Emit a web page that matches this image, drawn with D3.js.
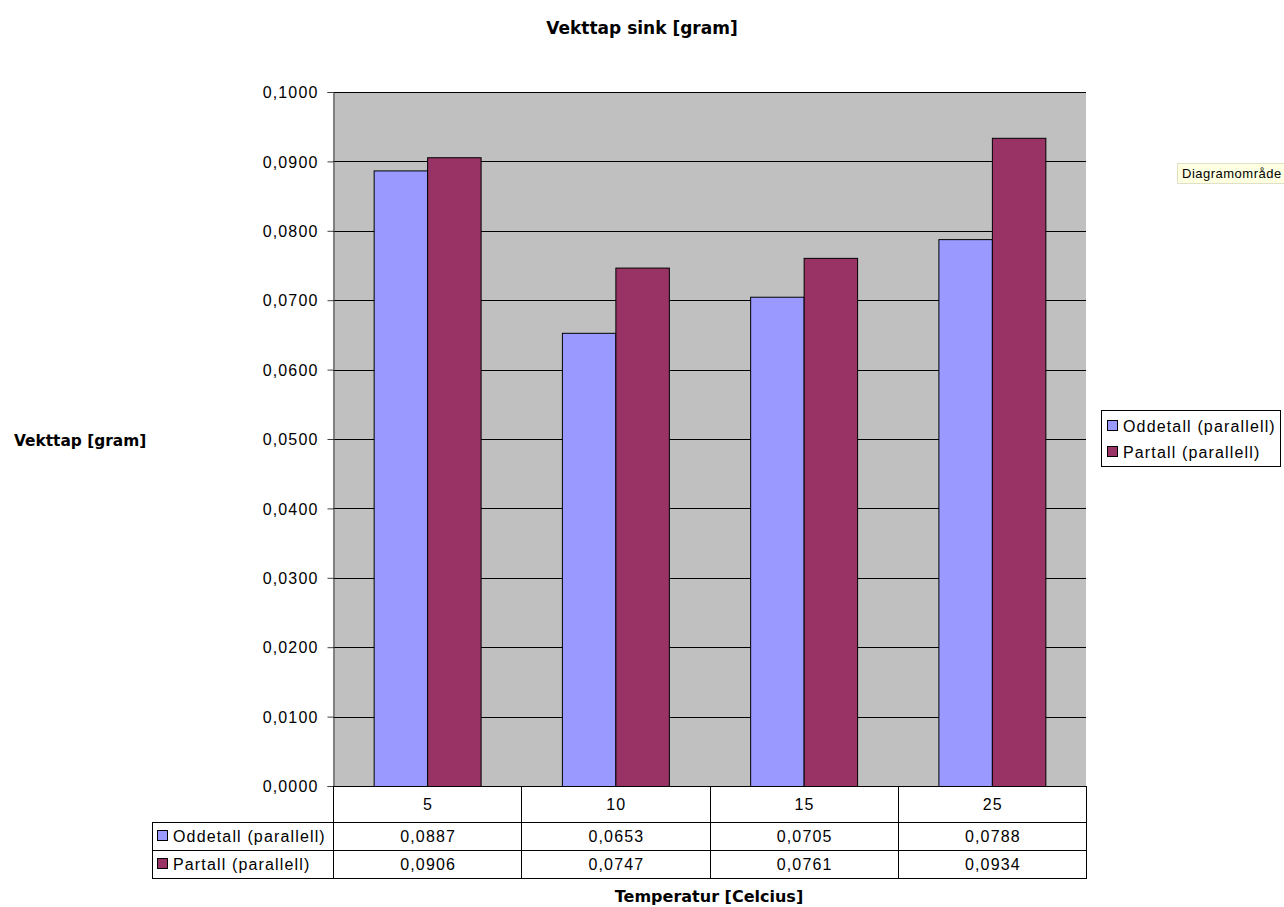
<!DOCTYPE html>
<html>
<head>
<meta charset="utf-8">
<script src="https://cdn.jsdelivr.net/npm/d3@7"></script>
<style>
  body { margin: 0; background: #fff; }
  svg { display: block; }
  .lbl { font-family: "Liberation Sans", Arial, sans-serif; font-size: 16px; letter-spacing: 1.15px; fill: #000; }
  .ttl { font-family: "DejaVu Sans", Verdana, sans-serif; font-weight: bold; fill: #000; }
</style>
</head>
<body>
<svg id="chart" width="1284" height="907"></svg>
<script>
// Weight loss of zinc per temperature, two parallel series
const categories = ["5", "10", "15", "25"];
const seriesNames = ["Oddetall (parallell)", "Partall (parallell)"];
const oddetall = [0.0887, 0.0653, 0.0705, 0.0788];
const partall = [0.0906, 0.0747, 0.0761, 0.0934];
const yTicks = [0, 0.01, 0.02, 0.03, 0.04, 0.05, 0.06, 0.07, 0.08, 0.09, 0.1];
const colors = ["#9999ff", "#993366"];

const seriesValues = [oddetall, partall];
const fmt = v => v.toFixed(4).replace(".", ",");

const svg = d3.select("#chart");
const plot = { left: 333, right: 1086, top: 92, bottom: 786 };

const x = d3.scaleBand().domain(categories).range([plot.left, plot.right]).paddingInner(0).paddingOuter(0);
const xs = d3.scaleBand().domain(seriesNames).range([0, x.bandwidth()]).paddingInner(0).paddingOuter(0.76);
const y = d3.scaleLinear().domain([0, 0.1]).range([plot.bottom, plot.top]);

// Plot area
svg.append("rect")
  .attr("x", plot.left).attr("y", plot.top)
  .attr("width", plot.right - plot.left).attr("height", plot.bottom - plot.top)
  .attr("fill", "#c0c0c0");

// Gridlines
svg.append("g").selectAll("line").data(yTicks.filter(t => t > 0)).join("line")
  .attr("x1", plot.left).attr("x2", plot.right)
  .attr("y1", d => Math.round(y(d)) + 0.5).attr("y2", d => Math.round(y(d)) + 0.5)
  .attr("stroke", "#000").attr("stroke-width", 1);

// Y axis
const yAxis = svg.append("g")
  .attr("transform", `translate(${plot.left + 0.5},0)`)
  .call(d3.axisLeft(y).tickValues(yTicks).tickFormat(fmt).tickSizeOuter(0).tickSize(6).tickPadding(9));
yAxis.attr("font-family", null).attr("font-size", null);
yAxis.select(".domain").attr("stroke", "#404040");
yAxis.selectAll(".tick line").attr("stroke", "#404040");
yAxis.selectAll("text").attr("class", "lbl").attr("fill", null).attr("dy", "0.36em");

// Bars
const groups = svg.append("g").selectAll("g").data(categories).join("g")
  .attr("transform", d => `translate(${x(d)},0)`);
groups.selectAll("rect")
  .data((c, i) => seriesNames.map((s, j) => ({ s, j, v: seriesValues[j][i] })))
  .join("rect")
  .attr("x", d => xs(d.s) + 0.5)
  .attr("y", d => y(d.v) + 0.5)
  .attr("width", xs.bandwidth())
  .attr("height", d => plot.bottom - y(d.v))
  .attr("fill", d => colors[d.j])
  .attr("stroke", "#000").attr("stroke-width", 1);

// Data table below the plot
const rowH = [36, 28, 28];
const tableLeft = 152;
const rowsY = [plot.bottom, plot.bottom + rowH[0], plot.bottom + rowH[0] + rowH[1], plot.bottom + rowH[0] + rowH[1] + rowH[2]];
const tbl = svg.append("g").attr("stroke", "#000").attr("stroke-width", 1).attr("fill", "none");
tbl.append("line").attr("x1", plot.left).attr("x2", plot.right).attr("y1", rowsY[0] + 0.5).attr("y2", rowsY[0] + 0.5);
[1, 2, 3].forEach(i => {
  tbl.append("line").attr("x1", tableLeft).attr("x2", plot.right).attr("y1", rowsY[i] + 0.5).attr("y2", rowsY[i] + 0.5);
});
tbl.append("line").attr("x1", tableLeft + 0.5).attr("x2", tableLeft + 0.5).attr("y1", rowsY[1]).attr("y2", rowsY[3] + 1);
categories.forEach(c => {
  tbl.append("line").attr("x1", Math.round(x(c)) + 0.5).attr("x2", Math.round(x(c)) + 0.5).attr("y1", rowsY[0]).attr("y2", rowsY[3] + 1);
});
tbl.append("line").attr("x1", plot.right + 0.5).attr("x2", plot.right + 0.5).attr("y1", rowsY[0]).attr("y2", rowsY[3] + 1);

// Category header
svg.append("g").selectAll("text").data(categories).join("text")
  .attr("class", "lbl")
  .attr("x", d => x(d) + x.bandwidth() / 2 + 1)
  .attr("y", rowsY[0] + rowH[0] / 2 + 6)
  .attr("text-anchor", "middle").text(d => d);

// Series rows
seriesNames.forEach((name, j) => {
  const cy = rowsY[j + 1] + rowH[j + 1] / 2;
  svg.append("rect").attr("x", tableLeft + 5.5).attr("y", cy - 5.5).attr("width", 10).attr("height", 10)
    .attr("fill", colors[j]).attr("stroke", "#000").attr("stroke-width", 1);
  svg.append("text").attr("class", "lbl").attr("x", tableLeft + 21).attr("y", cy + 6).text(name);
  svg.append("g").selectAll("text").data(categories).join("text")
    .attr("class", "lbl")
    .attr("x", d => x(d) + x.bandwidth() / 2 + 1)
    .attr("y", cy + 6)
    .attr("text-anchor", "middle")
    .text((d, i) => fmt(seriesValues[j][i]));
});

// Titles
svg.append("text").attr("class", "ttl").attr("x", 642).attr("y", 34).attr("text-anchor", "middle")
  .attr("font-size", 17).text("Vekttap sink [gram]");
svg.append("text").attr("class", "ttl").attr("x", 14).attr("y", 446)
  .attr("font-size", 15.4).text("Vekttap [gram]");
svg.append("text").attr("class", "ttl").attr("x", 709).attr("y", 902).attr("text-anchor", "middle")
  .attr("font-size", 16).text("Temperatur [Celcius]");

// Legend
const legend = svg.append("g").attr("transform", "translate(1101,410)");
legend.append("rect").attr("x", 0.5).attr("y", 0.5).attr("width", 179).attr("height", 56)
  .attr("fill", "#fff").attr("stroke", "#000");
seriesNames.forEach((name, j) => {
  const cy = 16 + j * 26;
  legend.append("rect").attr("x", 6.5).attr("y", cy - 5.5).attr("width", 10).attr("height", 10)
    .attr("fill", colors[j]).attr("stroke", "#000");
  legend.append("text").attr("class", "lbl").attr("x", 22).attr("y", cy + 6).text(name);
});

// Hover tooltip box
const tip = svg.append("g").attr("transform", "translate(1177,163)");
tip.append("rect").attr("x", 0.5).attr("y", 0.5).attr("width", 110).attr("height", 20)
  .attr("fill", "#ffffe1").attr("stroke", "#e0e0c8");
tip.append("text").attr("x", 5).attr("y", 15).attr("font-size", 13)
  .attr("font-family", "Liberation Sans, Arial, sans-serif").attr("letter-spacing", 0.5).text("Diagramområde");
</script>
</body>
</html>
